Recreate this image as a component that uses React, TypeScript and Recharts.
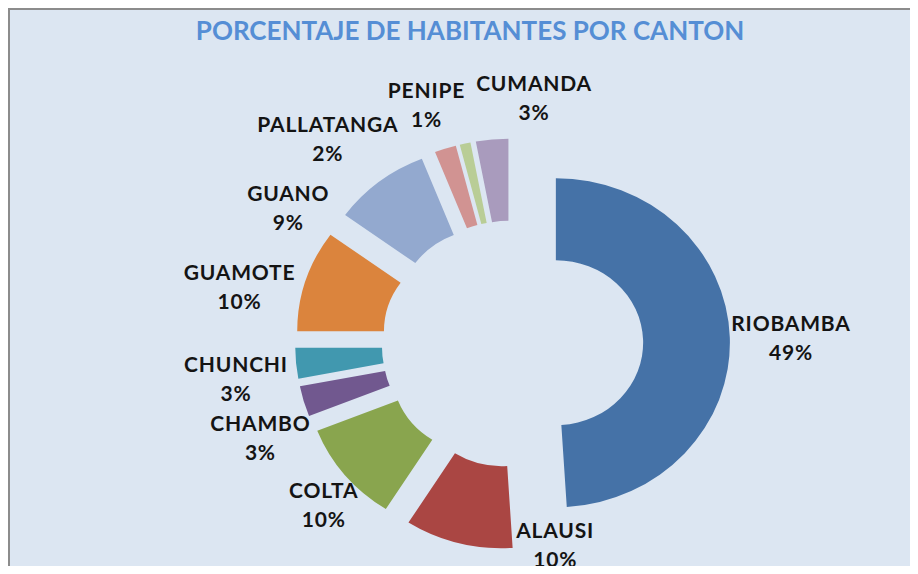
import React from 'react';
import { PieChart, Pie, Sector } from 'recharts';

const CANTONES = ['RIOBAMBA', 'ALAUSI', 'COLTA', 'CHAMBO', 'CHUNCHI', 'GUAMOTE', 'GUANO', 'PALLATANGA', 'PENIPE', 'CUMANDA'];
const PORCENTAJES = [49, 10, 10, 3, 3, 10, 9, 2, 1, 3];
const COLORES = ['#4572a7', '#aa4643', '#89a54e', '#71588f', '#4198af', '#db843d', '#93a9cf', '#d19392', '#b9cd96', '#a99bbd'];

// excel places the labels by hand, so nudge them from the default label point
const LABEL_NUDGE: [number, number][] = [
  [40, 1],
  [102, -17],
  [-5, 17],
  [-23, 31],
  [-39, 14],
  [-46, 13],
  [-78, 42],
  [-111, 9],
  [-34, -19],
  [44, -22],
];

const data = CANTONES.map((name, i) => ({ name, value: PORCENTAJES[i] }));

const STRETCH = 1.058; // the original picture is a bit wider than tall
const EXPLODE = 41;

function SliceWithLabel(props: any) {
  const { cx, cy, innerRadius, outerRadius, startAngle, endAngle, percent, index } = props;
  const mid = (startAngle + endAngle) / 2;
  const rad = (-mid * Math.PI) / 180;
  const ox = Math.cos(rad) * EXPLODE;
  const oy = Math.sin(rad) * EXPLODE;
  const lr = outerRadius + EXPLODE + 20;
  const lx = cx + Math.cos(rad) * lr * STRETCH + LABEL_NUDGE[index][0];
  const ly = cy + Math.sin(rad) * lr + LABEL_NUDGE[index][1];
  const textStyle = { fontFamily: 'Lato', fontWeight: 700, fontSize: 21, letterSpacing: 0.8, fill: '#141414' };

  return (
    <g>
      <g transform={`translate(${cx} ${cy}) scale(${STRETCH} 1) translate(${-cx} ${-cy})`}>
        <Sector
          cx={cx + ox}
          cy={cy + oy}
          innerRadius={innerRadius}
          outerRadius={outerRadius}
          startAngle={startAngle}
          endAngle={endAngle}
          fill={COLORES[index]}
          stroke="none"
        />
      </g>
      <text x={lx} y={ly - 7} textAnchor="middle" style={textStyle}>
        {CANTONES[index]}
      </text>
      <text x={lx} y={ly + 22} textAnchor="middle" style={textStyle}>
        {`${Math.round(percent * 100)}%`}
      </text>
    </g>
  );
}

export default function App() {
  return (
    <div
      style={{
        position: 'relative',
        width: 910,
        height: 566,
        boxSizing: 'border-box',
        background: '#dce6f2',
        borderTop: '2px solid #8c8c8c',
        borderLeft: '2px solid #8c8c8c',
        borderRight: '1px solid #b4b4b4',
        marginBottom: -8,
      }}
    >
      <div
        style={{
          position: 'absolute',
          left: 460,
          top: 5,
          transform: 'translateX(-50%)',
          whiteSpace: 'nowrap',
          fontFamily: 'Lato',
          fontWeight: 700,
          fontSize: 26,
          lineHeight: '30px',
          color: '#558ed5',
        }}
      >
        PORCENTAJE DE HABITANTES POR CANTON
      </div>
      <PieChart width={907} height={564} margin={{ top: 0, right: 0, bottom: 0, left: 0 }}>
        <Pie
          data={data}
          dataKey="value"
          nameKey="name"
          cx={502.5}
          cy={334}
          innerRadius={82.5}
          outerRadius={164.5}
          startAngle={90}
          endAngle={-270}
          fill="none"
          stroke="none"
          labelLine={false}
          label={SliceWithLabel}
          isAnimationActive={false}
        />
      </PieChart>
    </div>
  );
}
